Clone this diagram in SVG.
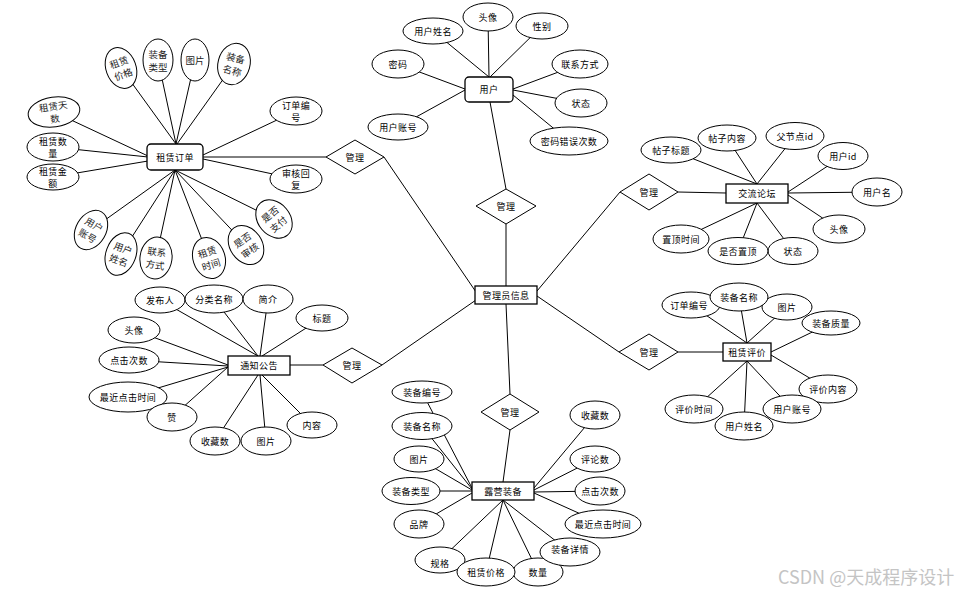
<svg xmlns="http://www.w3.org/2000/svg" width="965" height="594" viewBox="0 0 965 594">
<style>
.e{fill:#fff;stroke:#000;stroke-width:1}
.r{fill:#fff;stroke:#000;stroke-width:1.3}
.d{fill:#fff;stroke:#000;stroke-width:1}
.c line{stroke:#000;stroke-width:1}
.t{font-family:"Noto Sans CJK SC","Liberation Sans",sans-serif;font-size:9px;text-anchor:middle;dominant-baseline:central;fill:#000;letter-spacing:0.4px}
.s{font-size:9.5px;letter-spacing:0;fill:#222}
.w{font-family:"Noto Sans CJK SC","Liberation Sans",sans-serif;font-size:18px;fill:#c4c4c4}
</style>
<rect width="965" height="594" fill="#fff"/>
<g id="connectors" class="c">
<line x1="506" y1="224" x2="506" y2="286"/>
<line x1="490" y1="102" x2="506" y2="189"/>
<line x1="384" y1="157" x2="476" y2="292"/>
<line x1="203" y1="157" x2="326" y2="157"/>
<line x1="382" y1="365" x2="476" y2="300"/>
<line x1="290" y1="365" x2="323" y2="365"/>
<line x1="506" y1="304" x2="510" y2="394"/>
<line x1="510" y1="430" x2="503" y2="482"/>
<line x1="537" y1="291" x2="620" y2="192"/>
<line x1="678" y1="192" x2="726" y2="193"/>
<line x1="537" y1="296" x2="619" y2="352"/>
<line x1="678" y1="352" x2="723" y2="352"/>
<line x1="433" y1="31" x2="489" y2="77"/>
<line x1="488" y1="17" x2="489" y2="77"/>
<line x1="542" y1="26" x2="490" y2="77"/>
<line x1="398" y1="64" x2="465" y2="89"/>
<line x1="398" y1="127" x2="465" y2="90"/>
<line x1="580" y1="64" x2="513" y2="89"/>
<line x1="581" y1="103" x2="513" y2="90"/>
<line x1="569" y1="141" x2="513" y2="95"/>
<line x1="121" y1="68" x2="176" y2="144"/>
<line x1="158" y1="60" x2="176" y2="144"/>
<line x1="195" y1="60" x2="176" y2="144"/>
<line x1="234" y1="64" x2="177" y2="144"/>
<line x1="54" y1="112" x2="148" y2="156"/>
<line x1="53" y1="147" x2="148" y2="157"/>
<line x1="53" y1="177" x2="148" y2="161"/>
<line x1="296" y1="111" x2="203" y2="155"/>
<line x1="296" y1="179" x2="203" y2="159"/>
<line x1="91" y1="230" x2="175" y2="170"/>
<line x1="121" y1="254" x2="175" y2="170"/>
<line x1="156" y1="258" x2="175" y2="170"/>
<line x1="209" y1="258" x2="175" y2="170"/>
<line x1="246" y1="245" x2="175" y2="170"/>
<line x1="274" y1="219" x2="175" y2="170"/>
<line x1="160" y1="300" x2="258" y2="356"/>
<line x1="214" y1="299" x2="258" y2="356"/>
<line x1="268" y1="299" x2="260" y2="356"/>
<line x1="322" y1="318" x2="262" y2="356"/>
<line x1="134" y1="330" x2="228" y2="365"/>
<line x1="129" y1="360" x2="228" y2="366"/>
<line x1="128" y1="397" x2="228" y2="367"/>
<line x1="172" y1="417" x2="228" y2="367"/>
<line x1="215" y1="441" x2="258" y2="375"/>
<line x1="266" y1="441" x2="260" y2="375"/>
<line x1="312" y1="425" x2="262" y2="375"/>
<line x1="422" y1="392" x2="472" y2="488"/>
<line x1="422" y1="426" x2="472" y2="489"/>
<line x1="419" y1="459" x2="472" y2="490"/>
<line x1="411" y1="491" x2="472" y2="491"/>
<line x1="419" y1="524" x2="472" y2="493"/>
<line x1="440" y1="560" x2="503" y2="500"/>
<line x1="486" y1="572" x2="503" y2="500"/>
<line x1="538" y1="572" x2="503" y2="500"/>
<line x1="570" y1="552" x2="503" y2="500"/>
<line x1="603" y1="524" x2="534" y2="493"/>
<line x1="600" y1="491" x2="534" y2="492"/>
<line x1="595" y1="459" x2="534" y2="490"/>
<line x1="595" y1="415" x2="534" y2="488"/>
<line x1="671" y1="150" x2="757" y2="184"/>
<line x1="727" y1="138" x2="757" y2="184"/>
<line x1="795" y1="136" x2="757" y2="184"/>
<line x1="843" y1="156" x2="788" y2="192"/>
<line x1="877" y1="192" x2="788" y2="193"/>
<line x1="839" y1="229" x2="788" y2="195"/>
<line x1="793" y1="251" x2="757" y2="203"/>
<line x1="738" y1="251" x2="757" y2="203"/>
<line x1="681" y1="239" x2="757" y2="203"/>
<line x1="691" y1="305" x2="747" y2="343"/>
<line x1="739" y1="297" x2="747" y2="343"/>
<line x1="787" y1="307" x2="747" y2="343"/>
<line x1="831" y1="323" x2="771" y2="352"/>
<line x1="828" y1="389" x2="771" y2="355"/>
<line x1="792" y1="409" x2="747" y2="361"/>
<line x1="744" y1="426" x2="747" y2="361"/>
<line x1="694" y1="409" x2="747" y2="361"/>
</g>

<g id="admin"><rect class="r" x="475" y="286" width="62" height="18"/><text class="t" x="506" y="295">管理员信息</text></g>

<g id="rel-user"><polygon class="d" points="506,189 536,206 506,224 476,206"/><text class="t" x="506" y="206">管理</text></g>
<g id="rel-order"><polygon class="d" points="355,140 384,157 355,174 326,157"/><text class="t" x="355" y="157">管理</text></g>
<g id="rel-notice"><polygon class="d" points="352,348 382,365 352,383 323,365"/><text class="t" x="352" y="365">管理</text></g>
<g id="rel-equip"><polygon class="d" points="510,394 539,412 510,430 481,412"/><text class="t" x="510" y="412">管理</text></g>
<g id="rel-forum"><polygon class="d" points="649,174 678,192 649,210 620,192"/><text class="t" x="649" y="192">管理</text></g>
<g id="rel-review"><polygon class="d" points="649,334 678,352 649,370 619,352"/><text class="t" x="649" y="352">管理</text></g>

<g id="user"><rect class="r" x="465" y="77" width="48" height="25" rx="4"/><text class="t" x="489" y="89.5">用户</text></g>
<g id="user-name"><ellipse class="e" cx="433" cy="31" rx="30" ry="13"/><text class="t" x="433" y="31">用户姓名</text></g>
<g id="user-avatar"><ellipse class="e" cx="488" cy="17" rx="25" ry="14"/><text class="t" x="488" y="17">头像</text></g>
<g id="user-sex"><ellipse class="e" cx="542" cy="26" rx="26" ry="13"/><text class="t" x="542" y="26">性别</text></g>
<g id="user-pwd"><ellipse class="e" cx="398" cy="64" rx="26" ry="14"/><text class="t" x="398" y="64">密码</text></g>
<g id="user-contact"><ellipse class="e" cx="580" cy="64" rx="28" ry="14"/><text class="t" x="580" y="64">联系方式</text></g>
<g id="user-state"><ellipse class="e" cx="581" cy="103" rx="26" ry="14"/><text class="t" x="581" y="103">状态</text></g>
<g id="user-account"><ellipse class="e" cx="398" cy="127" rx="30" ry="13"/><text class="t" x="398" y="127">用户账号</text></g>
<g id="user-pwderr"><ellipse class="e" cx="569" cy="141" rx="39" ry="14"/><text class="t" x="569" y="141">密码错误次数</text></g>

<g id="order"><rect class="r" x="147" y="144" width="56" height="26" rx="4"/><text class="t" x="175" y="157">租赁订单</text></g>
<g id="order-price" transform="translate(121,68) rotate(-20)"><ellipse class="e" rx="15" ry="21"/><text class="t s" y="-6.5">租赁</text><text class="t s" y="6.5">价格</text></g>
<g id="order-type" transform="translate(158,60)"><ellipse class="e" rx="15" ry="21"/><text class="t s" y="-6.5">装备</text><text class="t s" y="6.5">类型</text></g>
<g id="order-pic" transform="translate(195,60)"><ellipse class="e" rx="14" ry="21"/><text class="t s" y="0">图片</text></g>
<g id="order-equipname" transform="translate(234,64) rotate(15)"><ellipse class="e" rx="16" ry="21"/><text class="t s" y="-6.5">装备</text><text class="t s" y="6.5">名称</text></g>
<g id="order-days" transform="translate(54,112) rotate(-8)"><ellipse class="e" rx="26" ry="15"/><text class="t s" y="-6">租赁天</text><text class="t s" y="6.5">数</text></g>
<g id="order-qty"><ellipse class="e" cx="53" cy="147" rx="26" ry="14"/><text class="t" x="53" y="141">租赁数</text><text class="t" x="53" y="153.5">量</text></g>
<g id="order-amount"><ellipse class="e" cx="53" cy="177" rx="26" ry="13"/><text class="t" x="53" y="171">租赁金</text><text class="t" x="53" y="183.5">额</text></g>
<g id="order-no"><ellipse class="e" cx="296" cy="111" rx="26" ry="14"/><text class="t" x="296" y="105">订单编</text><text class="t" x="296" y="117.5">号</text></g>
<g id="order-reply"><ellipse class="e" cx="296" cy="179" rx="26" ry="14"/><text class="t" x="296" y="173">审核回</text><text class="t" x="296" y="185.5">复</text></g>
<g id="order-account" transform="translate(91,230) rotate(30)"><ellipse class="e" rx="15" ry="21"/><text class="t s" y="-6.5">用户</text><text class="t s" y="6.5">账号</text></g>
<g id="order-username" transform="translate(121,254) rotate(20)"><ellipse class="e" rx="15" ry="22"/><text class="t s" y="-6.5">用户</text><text class="t s" y="6.5">姓名</text></g>
<g id="order-contact" transform="translate(156,258) rotate(8)"><ellipse class="e" rx="16" ry="21"/><text class="t s" y="-6.5">联系</text><text class="t s" y="6.5">方式</text></g>
<g id="order-time" transform="translate(209,258) rotate(-18)"><ellipse class="e" rx="16" ry="21"/><text class="t s" y="-6.5">租赁</text><text class="t s" y="6.5">时间</text></g>
<g id="order-audit" transform="translate(246,245) rotate(-35)"><ellipse class="e" rx="16" ry="21"/><text class="t s" y="-6.5">是否</text><text class="t s" y="6.5">审核</text></g>
<g id="order-paid" transform="translate(274,219) rotate(-40)"><ellipse class="e" rx="16" ry="21"/><text class="t s" y="-6.5">是否</text><text class="t s" y="6.5">支付</text></g>

<g id="notice"><rect class="r" x="228" y="356" width="62" height="19"/><text class="t" x="259" y="365.5">通知公告</text></g>
<g id="notice-publisher"><ellipse class="e" cx="160" cy="300" rx="25" ry="13"/><text class="t" x="160" y="300">发布人</text></g>
<g id="notice-category"><ellipse class="e" cx="214" cy="299" rx="29" ry="14"/><text class="t" x="214" y="299">分类名称</text></g>
<g id="notice-intro"><ellipse class="e" cx="268" cy="299" rx="25" ry="14"/><text class="t" x="268" y="299">简介</text></g>
<g id="notice-title"><ellipse class="e" cx="322" cy="318" rx="26" ry="13"/><text class="t" x="322" y="318">标题</text></g>
<g id="notice-avatar"><ellipse class="e" cx="134" cy="330" rx="26" ry="13"/><text class="t" x="134" y="330">头像</text></g>
<g id="notice-clicks"><ellipse class="e" cx="129" cy="360" rx="30" ry="13"/><text class="t" x="129" y="360">点击次数</text></g>
<g id="notice-lastclick"><ellipse class="e" cx="128" cy="397" rx="39" ry="15"/><text class="t" x="128" y="397">最近点击时间</text></g>
<g id="notice-like"><ellipse class="e" cx="172" cy="417" rx="25" ry="14"/><text class="t" x="172" y="417">赞</text></g>
<g id="notice-fav"><ellipse class="e" cx="215" cy="441" rx="25" ry="14"/><text class="t" x="215" y="441">收藏数</text></g>
<g id="notice-pic"><ellipse class="e" cx="266" cy="441" rx="25" ry="14"/><text class="t" x="266" y="441">图片</text></g>
<g id="notice-content"><ellipse class="e" cx="312" cy="425" rx="25" ry="13"/><text class="t" x="312" y="425">内容</text></g>

<g id="equip"><rect class="r" x="472" y="482" width="62" height="18"/><text class="t" x="503" y="491">露营装备</text></g>
<g id="equip-no"><ellipse class="e" cx="422" cy="392" rx="30" ry="11"/><text class="t" x="422" y="392">装备编号</text></g>
<g id="equip-name"><ellipse class="e" cx="422" cy="426" rx="30" ry="13.5"/><text class="t" x="422" y="426">装备名称</text></g>
<g id="equip-pic"><ellipse class="e" cx="419" cy="459" rx="25" ry="13"/><text class="t" x="419" y="459">图片</text></g>
<g id="equip-type"><ellipse class="e" cx="411" cy="491" rx="29" ry="13.5"/><text class="t" x="411" y="491">装备类型</text></g>
<g id="equip-brand"><ellipse class="e" cx="419" cy="524" rx="25" ry="14"/><text class="t" x="419" y="524">品牌</text></g>
<g id="equip-spec"><ellipse class="e" cx="440" cy="560" rx="25" ry="13"/><text class="t" x="440" y="563">规格</text></g>
<g id="equip-qty"><ellipse class="e" cx="538" cy="572" rx="25" ry="14"/><text class="t" x="538" y="572">数量</text></g>
<g id="equip-price"><ellipse class="e" cx="486" cy="572" rx="29" ry="14"/><text class="t" x="486" y="572">租赁价格</text></g>
<g id="equip-detail"><ellipse class="e" cx="570" cy="552" rx="30" ry="14"/><text class="t" x="570" y="549">装备详情</text></g>
<g id="equip-lastclick"><ellipse class="e" cx="603" cy="524" rx="38" ry="14"/><text class="t" x="603" y="524">最近点击时间</text></g>
<g id="equip-clicks"><ellipse class="e" cx="600" cy="491" rx="25" ry="14"/><text class="t" x="600" y="491">点击次数</text></g>
<g id="equip-comments"><ellipse class="e" cx="595" cy="459" rx="25" ry="13"/><text class="t" x="595" y="459">评论数</text></g>
<g id="equip-fav"><ellipse class="e" cx="595" cy="415" rx="25" ry="14"/><text class="t" x="595" y="415">收藏数</text></g>

<g id="forum"><rect class="r" x="726" y="184" width="62" height="19"/><text class="t" x="757" y="193.5">交流论坛</text></g>
<g id="forum-title"><ellipse class="e" cx="671" cy="150" rx="30" ry="13"/><text class="t" x="671" y="150">帖子标题</text></g>
<g id="forum-content"><ellipse class="e" cx="727" cy="138" rx="29" ry="13"/><text class="t" x="727" y="138">帖子内容</text></g>
<g id="forum-parent"><ellipse class="e" cx="795" cy="136" rx="29" ry="13.5"/><text class="t" x="795" y="136">父节点id</text></g>
<g id="forum-userid"><ellipse class="e" cx="843" cy="156" rx="25" ry="13.5"/><text class="t" x="843" y="156">用户id</text></g>
<g id="forum-username"><ellipse class="e" cx="877" cy="192" rx="25" ry="14"/><text class="t" x="877" y="192">用户名</text></g>
<g id="forum-avatar"><ellipse class="e" cx="839" cy="229" rx="26" ry="14"/><text class="t" x="839" y="229">头像</text></g>
<g id="forum-state"><ellipse class="e" cx="793" cy="251" rx="25" ry="13.5"/><text class="t" x="793" y="251">状态</text></g>
<g id="forum-top"><ellipse class="e" cx="738" cy="251" rx="30" ry="13.5"/><text class="t" x="738" y="251">是否置顶</text></g>
<g id="forum-toptime"><ellipse class="e" cx="681" cy="239" rx="28" ry="14"/><text class="t" x="681" y="239">置顶时间</text></g>

<g id="review"><rect class="r" x="723" y="343" width="48" height="18"/><text class="t" x="747" y="352">租赁评价</text></g>
<g id="review-orderno"><ellipse class="e" cx="691" cy="305" rx="29" ry="13"/><text class="t" x="689" y="305">订单编号</text></g>
<g id="review-pic"><ellipse class="e" cx="787" cy="307" rx="25" ry="13"/><text class="t" x="787" y="307">图片</text></g>
<g id="review-equipname"><ellipse class="e" cx="739" cy="297" rx="29" ry="14"/><text class="t" x="739" y="297">装备名称</text></g>
<g id="review-quality"><ellipse class="e" cx="831" cy="323" rx="29" ry="12"/><text class="t" x="831" y="323">装备质量</text></g>
<g id="review-content"><ellipse class="e" cx="828" cy="389" rx="29" ry="14"/><text class="t" x="828" y="389">评价内容</text></g>
<g id="review-account"><ellipse class="e" cx="792" cy="409" rx="29" ry="14"/><text class="t" x="792" y="409">用户账号</text></g>
<g id="review-time"><ellipse class="e" cx="694" cy="409" rx="29" ry="14"/><text class="t" x="694" y="409">评价时间</text></g>
<g id="review-username"><ellipse class="e" cx="744" cy="426" rx="29" ry="14"/><text class="t" x="744" y="426">用户姓名</text></g>

<text class="w" x="778" y="584">CSDN @天成程序设计</text>
</svg>
